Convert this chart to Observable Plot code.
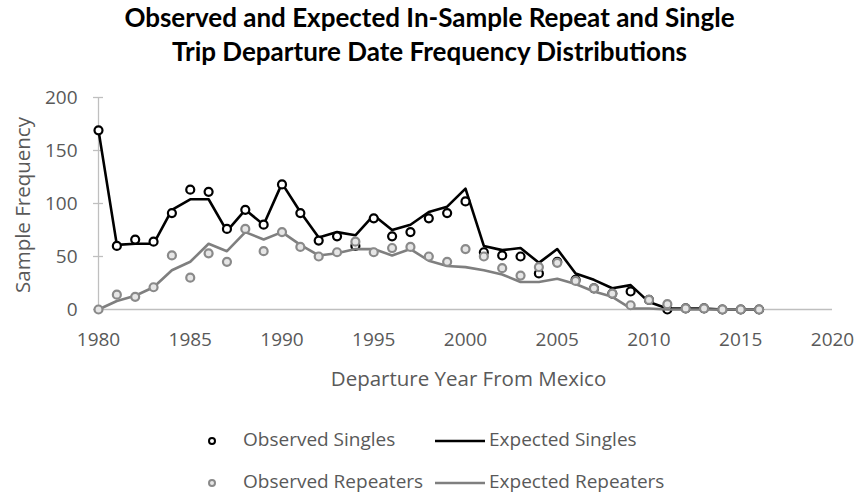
<!DOCTYPE html>
<html>
<head>
<meta charset="utf-8">
<script src="https://cdn.jsdelivr.net/npm/d3@7"></script>
<script src="https://cdn.jsdelivr.net/npm/@observablehq/plot@0.6"></script>
<style>
  html, body { margin: 0; padding: 0; background: #fff; }
  #wrap { position: relative; width: 859px; height: 502px; overflow: hidden; background: #fff; }
  #chart { position: absolute; left: 0; top: 0; }
  .title { position: absolute; left: 0; width: 859px; text-align: center; font-family: Lato, "Open Sans", sans-serif; font-weight: 700; font-size: 26px; color: #000; line-height: 1; white-space: nowrap; }
  .txt { position: absolute; font-family: "Open Sans", sans-serif; color: #595959; white-space: nowrap; line-height: 1; }
  .leg { position: absolute; font-family: "Open Sans", sans-serif; font-size: 19px; color: #595959; white-space: nowrap; line-height: 1; }
</style>
</head>
<body>
<div id="wrap">
  <div id="chart"></div>
</div>
<script>
const years = d3.range(1980, 2017);
const observedSingles   = [169,60,66,64,91,113,111,76,94,80,118,91,65,69,60,86,69,73,86,91,102,54,51,50,34,45,28,20,15,17,9,0,1,1,0,0,0];
const expectedSingles   = [169,61,62,62,94,104,104,74,94,80,119,92,68,73,70,89,75,80,92,97,114,60,56,58,44,57,34,28,20,23,7,1,1,1,0,0,0];
const observedRepeaters = [0,14,12,21,51,30,53,45,76,55,73,59,50,54,64,54,58,59,50,45,57,50,39,32,40,44,27,20,15,4,9,5,1,1,0,0,0];
const expectedRepeaters = [0,8,13,21,37,45,62,55,73,66,73,61,51,53,57,57,51,57,46,41,40,37,33,26,26,29,24,17,12,1,1,0,0,0,0,0,0];
const xTicks = [1980,1985,1990,1995,2000,2005,2010,2015,2020];
const yTicks = [0,50,100,150,200];
const titleLines = ["Observed and Expected In-Sample Repeat and Single", "Trip Departure Date Frequency Distributions"];
const xTitle = "Departure Year From Mexico";
const yTitle = "Sample Frequency";
const legendItems = [
  {label: "Observed Singles", kind: "dot", color: "#000000"},
  {label: "Expected Singles", kind: "line", color: "#000000"},
  {label: "Observed Repeaters", kind: "dot", color: "#8a8a8a"},
  {label: "Expected Repeaters", kind: "line", color: "#7f7f7f"}
];

const rows = (vals) => years.map((y, i) => ({year: y, value: vals[i]}));
const oS = rows(observedSingles), eS = rows(expectedSingles), oR = rows(observedRepeaters), eR = rows(expectedRepeaters);

const axisColor = "#bfbfbf";
const plot = Plot.plot({
  width: 859,
  height: 400,
  marginTop: 97,
  marginBottom: 91,
  marginLeft: 98,
  marginRight: 27,
  style: {background: "transparent", fontFamily: "'Open Sans', sans-serif", fontSize: "19px", color: "#595959"},
  x: {domain: [1980, 2020]},
  y: {domain: [0, 200]},
  marks: [
    Plot.ruleY([0], {stroke: axisColor, strokeWidth: 1.3}),
    Plot.ruleX([1980], {stroke: axisColor, strokeWidth: 1.3}),
    Plot.axisY(yTicks, {tickSize: 10, dx: 5, text: null, label: null, stroke: axisColor, strokeWidth: 1.3}),
    Plot.axisY(yTicks, {tickSize: 0, tickPadding: 21, label: null, fill: "#595959", fontSize: 19}),
    Plot.axisX(xTicks, {tickSize: 0, tickPadding: 23, label: null, tickFormat: d => String(d), fill: "#595959", fontSize: 19}),
    Plot.line(eS, {x: "year", y: "value", stroke: "#000", strokeWidth: 2.6}),
    Plot.dot(oS, {x: "year", y: "value", r: 4, stroke: "#000", strokeWidth: 2.2, fill: "#fff"}),
    Plot.line(eR, {x: "year", y: "value", stroke: "#7f7f7f", strokeWidth: 2.6}),
    Plot.dot(oR, {x: "year", y: "value", r: 4, stroke: "#8a8a8a", strokeWidth: 2.2, fill: "#e6e6e6"})
  ]
});
document.getElementById("chart").appendChild(plot);

const wrap = document.getElementById("wrap");
function addDiv(cls, text, css) {
  const d = document.createElement("div");
  d.className = cls; d.textContent = text;
  Object.assign(d.style, css);
  wrap.appendChild(d);
  return d;
}
addDiv("title", titleLines[0], {top: "4px"});
addDiv("title", titleLines[1], {top: "38px"});
addDiv("txt", xTitle, {left: "0px", width: "859px", textAlign: "center", top: "368px", fontSize: "20.5px", paddingLeft: "78px", boxSizing: "border-box"});
addDiv("txt", yTitle, {fontSize: "20.5px", left: "22px", top: "205px", transform: "translate(-50%,-50%) rotate(-90deg)"});

// legend
const ns = "http://www.w3.org/2000/svg";
const legPos = [
  {x: 212, y: 441, tx: 243},
  {x: 435, y: 441, tx: 489},
  {x: 212, y: 483, tx: 243},
  {x: 435, y: 483, tx: 489}
];
legendItems.forEach((it, i) => {
  const p = legPos[i];
  const s = document.createElementNS(ns, "svg");
  s.setAttribute("width", 52); s.setAttribute("height", 12);
  s.style.position = "absolute";
  if (it.kind === "dot") {
    s.style.left = (p.x - 6) + "px"; s.style.top = (p.y - 6) + "px";
    const c = document.createElementNS(ns, "circle");
    c.setAttribute("cx", 6); c.setAttribute("cy", 6); c.setAttribute("r", 3);
    c.setAttribute("stroke", it.color); c.setAttribute("stroke-width", 2);
    c.setAttribute("fill", i === 0 ? "#fff" : "#e6e6e6");
    s.appendChild(c);
  } else {
    s.style.left = p.x + "px"; s.style.top = (p.y - 6) + "px";
    const l = document.createElementNS(ns, "line");
    l.setAttribute("x1", 0); l.setAttribute("x2", 50); l.setAttribute("y1", 6); l.setAttribute("y2", 6);
    l.setAttribute("stroke", it.color); l.setAttribute("stroke-width", 2.6);
    s.appendChild(l);
  }
  wrap.appendChild(s);
  addDiv("leg", it.label, {left: p.tx + "px", top: (p.y - 11) + "px"});
});
</script>
</body>
</html>
